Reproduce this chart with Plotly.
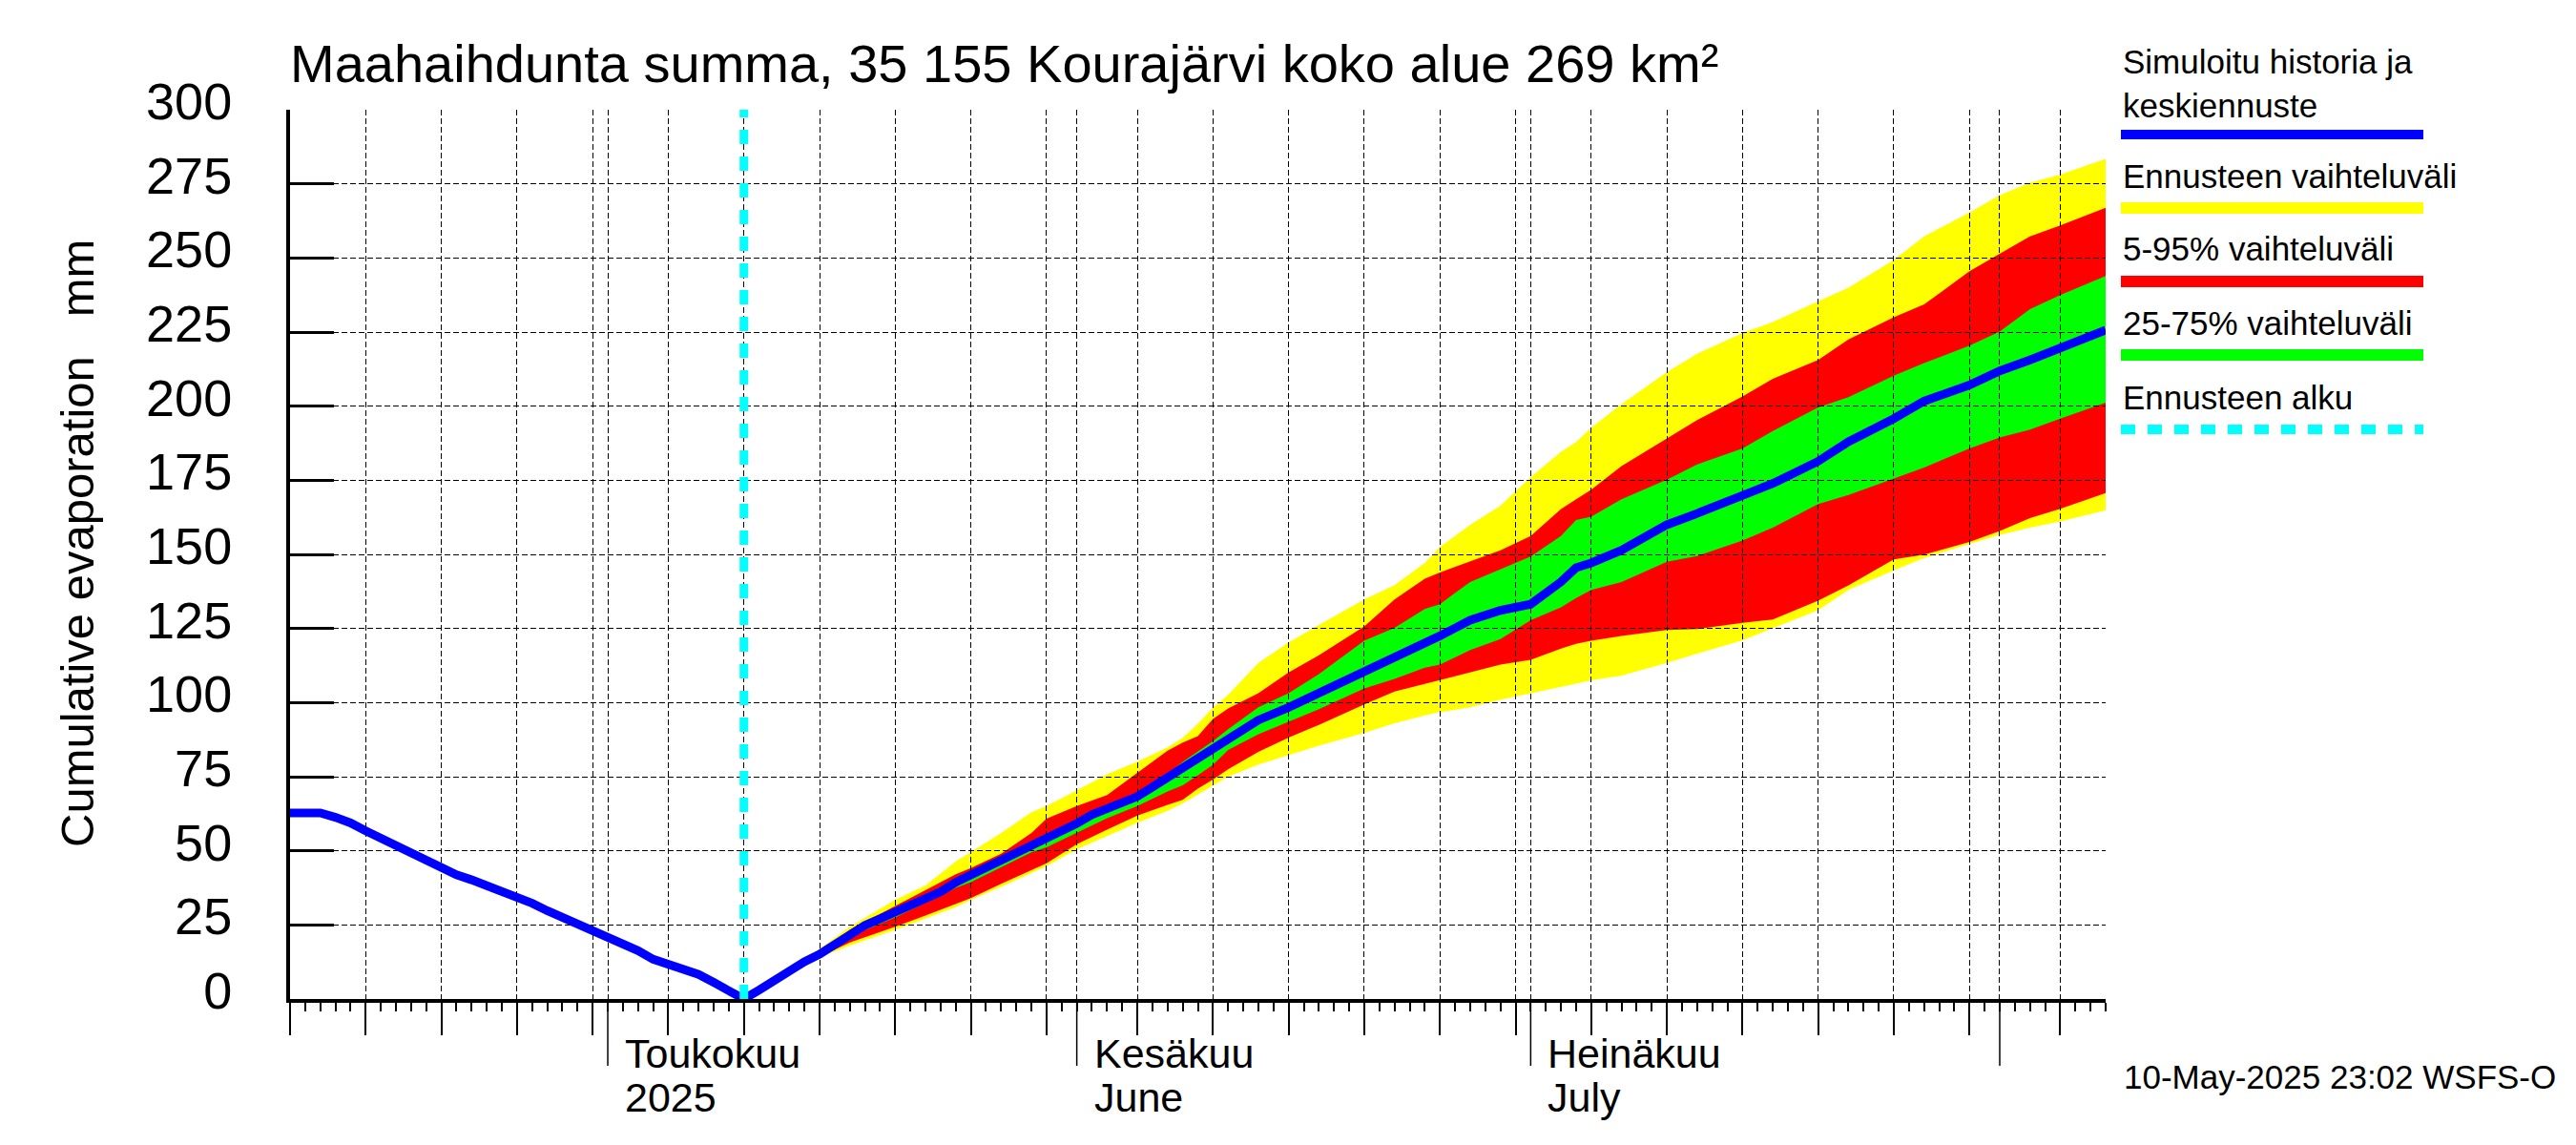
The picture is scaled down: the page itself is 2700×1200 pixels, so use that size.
# cumulative evaporation (maahaihdunta) forecast chart, Kourajärvi

# import packages
import pandas as pd
import plotly.graph_objects as go

# simulated history, one value per day up to the forecast start
hist_dates = pd.date_range("2025-04-10", "2025-05-10", freq="D")
hist_values = [62.8, 62.8, 62.8, 61.3, 59.4, 56.7, 54.2, 51.6, 48.8, 46.2, 43.8,
               41.9, 40.2, 38.4, 36.6, 34.3, 32.3, 29.8, 27.6, 25.5, 23.1,
               21.4, 18.7, 16.3, 13.4, 11.5, 9.9, 8.3, 5.6, 3.2, 0.0]

# median forecast (keskiennuste)
median_dates = ["2025-05-10", "2025-05-11", "2025-05-12", "2025-05-13", "2025-05-14",
                "2025-05-15", "2025-05-16", "2025-05-17", "2025-05-18", "2025-05-19",
                "2025-05-20", "2025-05-21", "2025-05-22", "2025-05-23", "2025-05-24",
                "2025-05-25", "2025-05-26", "2025-05-27", "2025-05-28", "2025-05-29",
                "2025-05-30", "2025-05-31", "2025-06-01", "2025-06-02", "2025-06-03",
                "2025-06-04", "2025-06-05", "2025-06-06", "2025-06-07", "2025-06-08",
                "2025-06-09", "2025-06-10", "2025-06-11", "2025-06-13", "2025-06-15",
                "2025-06-17", "2025-06-20", "2025-06-22", "2025-06-24", "2025-06-25",
                "2025-06-27", "2025-06-29", "2025-07-01", "2025-07-03", "2025-07-04",
                "2025-07-05", "2025-07-07", "2025-07-10", "2025-07-12", "2025-07-15",
                "2025-07-17", "2025-07-20", "2025-07-22", "2025-07-25", "2025-07-27",
                "2025-07-30", "2025-08-01", "2025-08-03", "2025-08-05", "2025-08-08"]
median_values = [0.0, 3.0, 6.2, 10.0, 12.6, 15.1, 18.3, 21.7, 24.9, 27.1,
                 29.2, 31.6, 33.7, 36.2, 39.4, 41.9, 44.2, 46.6, 49.0, 51.5,
                 53.9, 56.2, 59.2, 62.2, 64.0, 66.2, 68.3, 71.5, 74.7, 78.5,
                 81.7, 84.9, 88.1, 94.1, 98.4, 103.2, 110.2, 115.5, 120.3, 122.5,
                 127.8, 131.1, 133.2, 140.7, 145.5, 147.1, 151.4, 160.0, 163.8, 169.7,
                 173.9, 181.4, 188.0, 195.8, 201.7, 207.1, 211.9, 215.6, 219.9, 225.7]

# forecast ranges
band_dates = ["2025-05-10", "2025-05-13", "2025-05-15", "2025-05-17", "2025-05-20",
              "2025-05-22", "2025-05-24", "2025-05-25", "2025-05-27", "2025-05-29",
              "2025-05-30", "2025-06-01", "2025-06-03", "2025-06-05", "2025-06-07",
              "2025-06-08", "2025-06-09", "2025-06-10", "2025-06-11", "2025-06-13",
              "2025-06-15", "2025-06-17", "2025-06-20", "2025-06-22", "2025-06-24",
              "2025-06-25", "2025-06-27", "2025-06-29", "2025-07-01", "2025-07-03",
              "2025-07-04", "2025-07-05", "2025-07-07", "2025-07-10", "2025-07-12",
              "2025-07-15", "2025-07-17", "2025-07-20", "2025-07-22", "2025-07-25",
              "2025-07-27", "2025-07-30", "2025-08-01", "2025-08-03", "2025-08-05",
              "2025-08-08"]
band_max = [0.0, 10.3, 16.9, 24.4, 33.5, 38.3, 46.4, 49.6, 56.0, 63.0, 65.1,
            70.4, 75.8, 80.1, 84.9, 88.1, 92.9, 98.3, 102.6, 113.4, 120.3, 126.2,
            134.8, 139.6, 147.1, 152.5, 160.0, 166.4,
            176.1, 184.6, 187.9, 192.7, 200.7, 211.5, 217.7, 224.7, 228.4, 235.4,
            240.0, 249.3, 257.3, 265.3,
            271.2, 275.4, 278.1, 283.4]
band_p95 = [0.0, 10.2, 15.8, 23.3, 31.4, 36.7, 42.1, 44.2, 49.0, 56.0, 60.8,
            65.1, 68.8, 76.3, 83.8, 86.5, 88.7, 94.5, 98.0, 103.2, 110.2, 116.0,
            125.7, 134.8, 141.8, 143.9, 147.7, 151.4,
            156.2, 165.3, 168.6, 171.8, 179.8, 189.0, 195.3, 203.3, 209.2, 215.6,
            222.5, 230.0, 234.3, 245.5,
            251.4, 257.3, 261.0, 266.9]
band_p75 = [0.0, 10.1, 15.4, 22.3, 30.0, 34.5, 40.2, 42.8, 47.6, 52.5, 55.0,
            60.3, 65.5, 69.4, 76.0, 80.0, 83.5, 87.0, 91.0, 98.4, 103.2, 109.6,
            120.9, 125.2, 131.6, 133.2, 140.7, 145.0,
            149.3, 156.2, 161.6, 162.7, 168.6, 175.2, 180.3, 185.7, 191.6, 199.6,
            203.0, 210.3, 214.5, 220.4,
            225.2, 232.7, 237.5, 243.9]
band_p25 = [0.0, 9.9, 14.8, 21.2, 27.5, 32.5, 37.5, 39.4, 44.5, 49.5, 51.2,
            56.0, 61.0, 65.1, 70.0, 72.1, 75.5, 79.0, 84.0, 89.3, 93.5, 97.8,
            104.8, 108.0, 111.8, 112.8, 117.7, 121.4,
            127.8, 132.1, 135.3, 138.0, 140.7, 147.5, 149.4, 154.7, 159.0, 167.0,
            170.0, 175.5, 179.3, 185.7,
            189.4, 192.1, 195.8, 201.2]
band_p5 = [0.0, 9.8, 14.2, 19.1, 24.4, 28.2, 32.0, 34.0, 38.9, 43.5, 45.8,
           52.2, 57.1, 61.9, 65.5, 67.2, 71.0, 74.0, 77.5, 83.4, 88.2, 92.5,
           99.4, 103.7, 106.4, 107.5, 110.2, 112.8,
           114.4, 118.2, 119.8, 120.9, 122.5, 124.5, 124.8, 126.9, 128.0, 134.4,
           139.5, 148.3, 149.9, 154.2,
           157.9, 162.2, 165.4, 170.7]
band_min = [0.0, 9.7, 14.0, 18.0, 23.3, 27.1, 31.0, 33.5, 37.8, 42.5, 44.8,
            50.5, 55.0, 59.5, 63.5, 66.0, 69.0, 72.0, 75.0, 79.1, 82.3, 85.5,
            89.8, 93.0, 95.7, 96.8, 98.4, 101.0,
            103.2, 105.3, 106.4, 107.5, 109.1, 113.4, 116.5, 121.0, 125.0, 131.2,
            138.0, 144.6, 148.8, 153.5,
            156.6, 159.0, 161.1, 164.9]

# axes and texts
x_start = "2025-04-10"
x_end = "2025-08-08"
forecast_start = "2025-05-10"
y_ticks = list(range(0, 301, 25))
month_ticks = ["2025-05-01", "2025-06-01", "2025-07-01", "2025-08-01"]
month_labels = [["Toukokuu", "2025"], ["Kesäkuu", "June"], ["Heinäkuu", "July"]]
title_text = "Maahaihdunta summa, 35 155 Kourajärvi koko alue 269 km²"
y_label = "Cumulative evaporation   mm"
stamp_text = "10-May-2025 23:02 WSFS-O"
legend_labels = ["Simuloitu historia ja<br>keskiennuste", "Ennusteen vaihteluväli",
                 "5-95% vaihteluväli", "25-75% vaihteluväli", "Ennusteen alku"]
legend_colors = ["#0000ff", "#ffff00", "#ff0000", "#00ff00", "#00ffff"]

FONT = "Liberation Sans, Arial, Helvetica, sans-serif"

# plot area in pixels
W, H = 2700, 1200
LEFT, RIGHT, TOP, BOTTOM = 304, 2207, 115, 1047


# convert pixel positions to paper coordinates
def px_x(px):
    return (px - LEFT) / (RIGHT - LEFT)


def px_y(py):
    return (BOTTOM - py) / (BOTTOM - TOP)


# add a filled range between two series
def add_band(fig, dates, upper, lower, color):
    xs = list(dates) + list(dates)[::-1]
    ys = list(upper) + list(lower)[::-1]
    fig.add_trace(go.Scatter(x=xs, y=ys, fill="toself", fillcolor=color, mode="lines",
                             line=dict(width=0, color=color), hoverinfo="skip",
                             showlegend=False, xaxis="x", yaxis="y"))


# add a text annotation at a pixel position
def add_text(fig, text, px, py, size, xanchor="left", angle=0):
    fig.add_annotation(text=text, x=px_x(px), y=px_y(py), xref="paper", yref="paper",
                       xanchor=xanchor, yanchor="middle", showarrow=False, textangle=angle,
                       align="left", borderpad=0,
                       font=dict(family=FONT, size=size, color="black"))


all_days = pd.date_range(x_start, x_end, freq="D")
five_days = [d for d in all_days if d.day % 5 == 0]
grid_days = [d for d in all_days if (d.day % 5 == 0 or d.day == 1) and d != all_days[0]]
grid_days.append(pd.Timestamp(x_end))

fig = go.Figure()

# ranges, widest first
add_band(fig, band_dates, band_max, band_min, legend_colors[1])
add_band(fig, band_dates, band_p95, band_p5, legend_colors[2])
add_band(fig, band_dates, band_p75, band_p25, legend_colors[3])

# history and median forecast as one line, drawn above the grid
line_x = list(hist_dates.strftime("%Y-%m-%d")) + median_dates[1:]
line_y = hist_values + median_values[1:]
fig.add_trace(go.Scatter(x=line_x, y=line_y, mode="lines",
                         line=dict(color=legend_colors[0], width=9),
                         showlegend=False, xaxis="x2", yaxis="y2"))

# forecast start
fig.add_trace(go.Scatter(x=[forecast_start, forecast_start], y=[y_ticks[0], y_ticks[-1]],
                         mode="lines", line=dict(color=legend_colors[4], width=9, dash="15px,13px"),
                         showlegend=False, xaxis="x2", yaxis="y2"))

grid_dash = "6px,3px"
fig.update_layout(
    width=W, height=H,
    margin=dict(l=LEFT, r=W - RIGHT, t=TOP, b=H - BOTTOM, pad=0),
    paper_bgcolor="white", plot_bgcolor="rgba(0,0,0,0)",
    showlegend=False,
    font=dict(family=FONT, color="black"),
    xaxis=dict(type="date", range=[x_start, x_end], domain=[0, 1], anchor="y",
               showgrid=False, zeroline=False, showline=True, linewidth=4, linecolor="black",
               tickvals=five_days, ticks="outside", ticklen=34, tickwidth=1.5, tickcolor="black",
               showticklabels=False,
               minor=dict(ticks="outside", ticklen=9, tickwidth=1.5, tickcolor="black",
                          dtick=86400000, tick0=x_start, showgrid=False)),
    yaxis=dict(range=[0, 300], domain=[0, 1], anchor="x", tickvals=y_ticks,
               showgrid=False, zeroline=False, showline=True, linewidth=4, linecolor="black",
               ticks="inside", ticklen=46, tickwidth=3, tickcolor="black",
               tickfont=dict(family=FONT, size=54, color="black"),
               ticklabelstandoff=46, ticklabelshift=-9),
    xaxis2=dict(type="date", range=[x_start, x_end], domain=[0, 1], anchor="y2",
                tickvals=grid_days, showgrid=True, gridcolor="black", gridwidth=1.3,
                griddash=grid_dash, showticklabels=False, ticks="", showline=False, zeroline=False),
    yaxis2=dict(range=[0, 300], domain=[0, 1], anchor="x2", tickvals=y_ticks[1:],
                showgrid=True, gridcolor="black", gridwidth=1.3, griddash=grid_dash,
                showticklabels=False, ticks="", showline=False, zeroline=False),
)

# long ticks at month starts
for m in month_ticks:
    fig.add_shape(type="line", x0=m, x1=m, xref="x", yref="paper",
                  y0=0, y1=px_y(BOTTOM + 70), line=dict(color="black", width=1.5))

# month labels under the axis
for m, lab in zip(month_ticks, month_labels):
    mx = LEFT + (pd.Timestamp(m) - pd.Timestamp(x_start)).days * (RIGHT - LEFT) / (len(all_days) - 1)
    add_text(fig, lab[0], mx + 17, 1104, 43)
    add_text(fig, lab[1], mx + 17, 1150, 43)

# title, axis label and time stamp
add_text(fig, title_text, 303, 66, 56)
add_text(fig, y_label, 81, 570, 49, xanchor="center", angle=-90)
add_text(fig, stamp_text, 2225, 1128, 35)

# legend: text above a line sample
text_rows = [88, 184, 261, 338, 416]
line_rows = [141, 218, 295, 372, 450]
line_widths = [10, 12, 12, 12, 10]
for i, lab in enumerate(legend_labels):
    add_text(fig, lab, 2224, text_rows[i], 35)
    fig.add_shape(type="line", xref="paper", yref="paper",
                  x0=px_x(2223), x1=px_x(2540), y0=px_y(line_rows[i]), y1=px_y(line_rows[i]),
                  line=dict(color=legend_colors[i], width=line_widths[i],
                            dash="15px,13px" if i == 4 else "solid"))

# the page margin would shift the figure by a few pixels
fig.write_html("out.html", config={"displayModeBar": False},
               post_script="document.body.style.margin = '0px';")
